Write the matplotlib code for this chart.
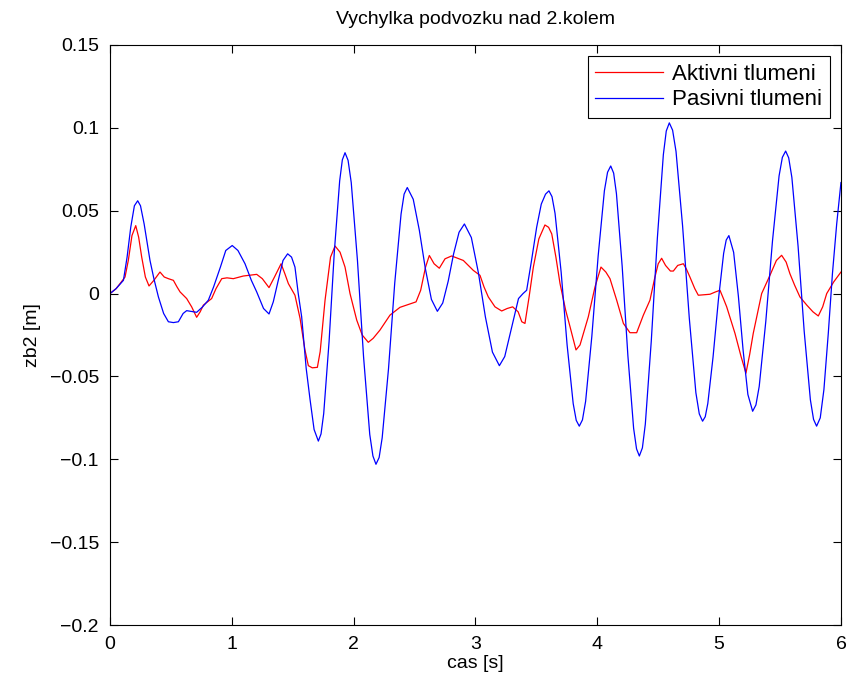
import matplotlib.pyplot as plt
from matplotlib.ticker import FuncFormatter

plt.rcParams['font.family'] = ['Liberation Sans', 'DejaVu Sans']

# time [s] / displacement [m], passive damping (blue)
t_pas = [0.0, 0.05, 0.11, 0.14, 0.17, 0.20, 0.227, 0.25, 0.28, 0.328, 0.36, 0.397,
         0.44, 0.479, 0.52, 0.561, 0.60, 0.629, 0.67, 0.711, 0.76, 0.807, 0.85, 0.906,
         0.95, 1.003, 1.05, 1.108, 1.16, 1.204, 1.26, 1.305, 1.34, 1.381, 1.42, 1.458,
         1.49, 1.518, 1.545, 1.573, 1.61, 1.642, 1.675, 1.71, 1.732, 1.754, 1.798, 1.841,
         1.885, 1.907, 1.929, 1.954, 1.980, 2.031, 2.081, 2.132, 2.158, 2.183, 2.209, 2.234,
         2.286, 2.337, 2.389, 2.414, 2.44, 2.489, 2.539, 2.588, 2.638, 2.687, 2.731, 2.776,
         2.82, 2.865, 2.909, 2.966, 3.024, 3.081, 3.139, 3.196, 3.24, 3.298, 3.353, 3.39,
         3.42, 3.46, 3.502, 3.54, 3.575, 3.603, 3.628, 3.653, 3.703, 3.752, 3.802, 3.827,
         3.852, 3.878, 3.904, 3.955, 4.007, 4.058, 4.084, 4.11, 4.134, 4.157, 4.204, 4.251,
         4.298, 4.322, 4.345, 4.37, 4.394, 4.443, 4.493, 4.542, 4.566, 4.591, 4.618, 4.646,
         4.70, 4.755, 4.809, 4.837, 4.864, 4.886, 4.907, 4.95, 4.994, 5.037, 5.058, 5.08,
         5.119, 5.158, 5.197, 5.236, 5.275, 5.302, 5.329, 5.383, 5.438, 5.492, 5.519, 5.546,
         5.571, 5.597, 5.648, 5.698, 5.749, 5.775, 5.80, 5.83, 5.86, 5.896, 5.93, 5.965,
         6.0]
z_pas = [0.0, 0.003, 0.008, 0.022, 0.040, 0.053, 0.056, 0.053, 0.042, 0.020, 0.009, -0.002,
         -0.012, -0.017, -0.0175, -0.017, -0.012, -0.0103, -0.0108, -0.0113, -0.008, -0.004, 0.004, 0.016,
         0.026, 0.029, 0.026, 0.018, 0.008, 0.001, -0.009, -0.0123, -0.005, 0.008, 0.020, 0.024,
         0.022, 0.016, 0.0, -0.014, -0.045, -0.064, -0.082, -0.089, -0.0847, -0.0724, -0.029, 0.025,
         0.068, 0.0807, 0.085, 0.0804, 0.067, 0.020, -0.038, -0.085, -0.098, -0.103, -0.0989, -0.087,
         -0.0453, 0.0063, 0.048, 0.060, 0.064, 0.0569, 0.0382, 0.0152, -0.0035, -0.0107, -0.0057, 0.0075,
         0.0239, 0.037, 0.042, 0.0338, 0.0125, -0.014, -0.0353, -0.0435, -0.038, -0.020, -0.003, 0.0,
         0.002, 0.020, 0.040, 0.054, 0.060, 0.062, 0.0585, 0.0484, 0.013, -0.031, -0.0664, -0.0765,
         -0.080, -0.0762, -0.065, -0.0258, 0.0228, 0.062, 0.0732, 0.077, 0.0727, 0.0603, 0.0165, -0.0375,
         -0.0813, -0.0937, -0.098, -0.0931, -0.0788, -0.0286, 0.0336, 0.0838, 0.0981, 0.103, 0.0986, 0.0858,
         0.0408, -0.0148, -0.0598, -0.0726, -0.077, -0.0743, -0.0663, -0.0383, -0.0037, 0.0243, 0.0323, 0.035,
         0.0249, -0.0016, -0.0344, -0.0609, -0.071, -0.0672, -0.056, -0.0168, 0.0318, 0.071, 0.0822, 0.086,
         0.0819, 0.0701, 0.0286, -0.0226, -0.0641, -0.0759, -0.080, -0.075, -0.058, -0.024, 0.012, 0.042,
         0.067]

# active damping (red)
t_akt = [0.0, 0.05, 0.082, 0.123, 0.15, 0.18, 0.211, 0.235, 0.26, 0.29, 0.32, 0.36,
         0.41, 0.445, 0.479, 0.52, 0.55, 0.575, 0.629, 0.67, 0.711, 0.74, 0.766, 0.834,
         0.87, 0.917, 0.96, 1.012, 1.094, 1.204, 1.25, 1.305, 1.35, 1.404, 1.435, 1.464,
         1.518, 1.56, 1.60, 1.628, 1.66, 1.702, 1.725, 1.765, 1.81, 1.847, 1.888, 1.929,
         1.97, 2.025, 2.07, 2.12, 2.16, 2.216, 2.298, 2.38, 2.435, 2.512, 2.55, 2.59,
         2.621, 2.66, 2.703, 2.75, 2.804, 2.90, 2.982, 3.037, 3.07, 3.105, 3.16, 3.215,
         3.26, 3.305, 3.35, 3.38, 3.406, 3.44, 3.475, 3.52, 3.57, 3.60, 3.626, 3.66,
         3.694, 3.74, 3.776, 3.825, 3.858, 3.926, 3.981, 4.03, 4.07, 4.104, 4.159, 4.214,
         4.268, 4.323, 4.378, 4.432, 4.473, 4.50, 4.528, 4.56, 4.60, 4.624, 4.66, 4.706,
         4.73, 4.76, 4.80, 4.829, 4.925, 4.97, 5.007, 5.035, 5.062, 5.13, 5.18, 5.22,
         5.25, 5.28, 5.32, 5.349, 5.417, 5.47, 5.513, 5.55, 5.581, 5.62, 5.663, 5.72,
         5.77, 5.814, 5.85, 5.883, 5.94, 6.0]
z_akt = [0.0, 0.003, 0.006, 0.010, 0.020, 0.035, 0.041, 0.034, 0.022, 0.010, 0.0046, 0.008,
         0.013, 0.010, 0.009, 0.008, 0.004, 0.001, -0.003, -0.008, -0.0143, -0.011, -0.007, -0.003,
         0.003, 0.009, 0.0095, 0.009, 0.0106, 0.0116, 0.009, 0.0036, 0.010, 0.018, 0.012, 0.006,
         -0.001, -0.015, -0.034, -0.0435, -0.0448, -0.0445, -0.035, -0.004, 0.022, 0.0287, 0.025, 0.016,
         0.0, -0.016, -0.025, -0.0294, -0.027, -0.022, -0.013, -0.0083, -0.0069, -0.005, 0.002, 0.016,
         0.023, 0.018, 0.0153, 0.021, 0.0227, 0.020, 0.014, 0.011, 0.004, -0.002, -0.008, -0.0105,
         -0.009, -0.008, -0.011, -0.017, -0.018, -0.002, 0.016, 0.033, 0.0414, 0.040, 0.036, 0.022,
         0.006, -0.010, -0.020, -0.034, -0.031, -0.014, 0.004, 0.016, 0.013, 0.009, -0.004, -0.018,
         -0.0236, -0.0236, -0.013, -0.004, 0.010, 0.018, 0.0213, 0.017, 0.0136, 0.0136, 0.017, 0.018,
         0.015, 0.010, 0.003, -0.001, -0.0004, 0.001, 0.002, -0.003, -0.008, -0.024, -0.038, -0.048,
         -0.037, -0.024, -0.010, 0.0, 0.011, 0.020, 0.0231, 0.019, 0.012, 0.005, -0.002, -0.007,
         -0.011, -0.0135, -0.008, 0.0, 0.007, 0.013]

x_ticks = [0, 1, 2, 3, 4, 5, 6]
y_ticks = [-0.2, -0.15, -0.1, -0.05, 0, 0.05, 0.1, 0.15]


def tick_fmt(v, pos):
    return '{:g}'.format(round(v, 4)).replace('-', '\u2212')


fig = plt.figure(figsize=(8.51, 6.87), dpi=100)
ax = fig.add_axes([0.1293, 0.0902, 0.8589, 0.8443])

ax.plot(t_akt, z_akt, color='#ff0000', lw=0.9, label='Aktivni tlumeni')
ax.plot(t_pas, z_pas, color='#0000ff', lw=0.9, label='Pasivni tlumeni')

ax.set_xlim(0, 6)
ax.set_ylim(-0.2, 0.15)
ax.set_xticks(x_ticks)
ax.set_yticks(y_ticks)
ax.xaxis.set_major_formatter(FuncFormatter(tick_fmt))
ax.yaxis.set_major_formatter(FuncFormatter(tick_fmt))
ax.tick_params(direction='in', top=True, right=True, length=6, width=0.8,
               labelsize=14, pad=8)
for s in ax.spines.values():
    s.set_linewidth(0.8)

ax.set_title('Vychylka podvozku nad 2.kolem', fontsize=14, pad=15)
ax.set_xlabel('cas [s]', fontsize=14, labelpad=1)
ax.set_ylabel('zb2 [m]', fontsize=14, labelpad=6)

leg = ax.legend(loc='upper right', fontsize=16, handlelength=3.05, fancybox=False,
                edgecolor='black', framealpha=1, borderaxespad=0.5,
                borderpad=0.35, labelspacing=0.2, handletextpad=0.4)
leg.get_frame().set_linewidth(0.8)

fig.savefig('out.png', dpi=100)
